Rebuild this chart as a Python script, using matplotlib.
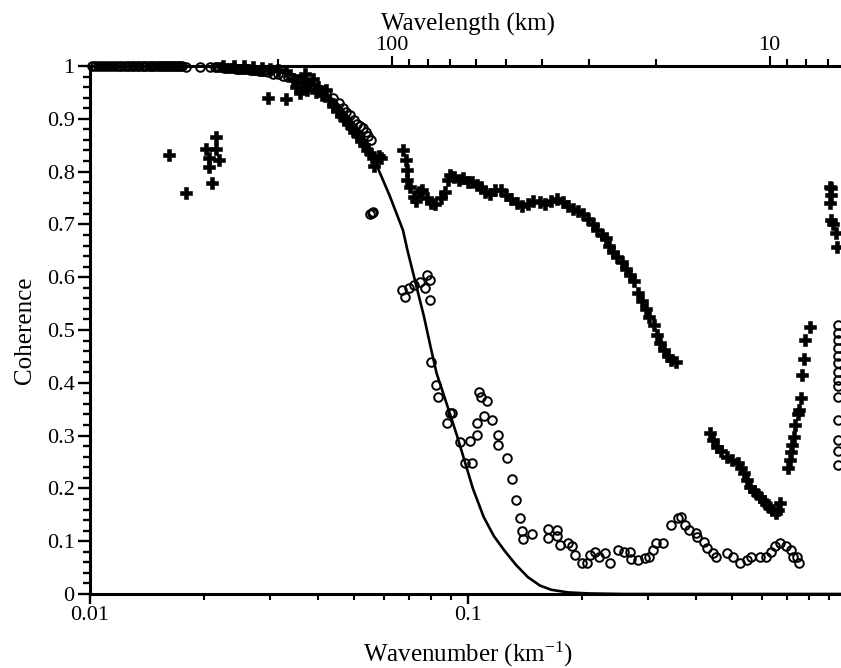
import numpy as np
import matplotlib
matplotlib.use("Agg")
import matplotlib.pyplot as plt
from matplotlib.ticker import FixedLocator, NullFormatter, FuncFormatter

plt.rcParams['font.family'] = ['Liberation Serif', 'DejaVu Serif']
plt.rcParams['mathtext.fontset'] = 'custom'
plt.rcParams['mathtext.rm'] = 'Liberation Serif'
plt.rcParams['mathtext.it'] = 'Liberation Serif:italic'

# ---------------- data (wavenumber km^-1, coherence) ----------------
# model curve
curve_k = [0.010, 0.015, 0.020, 0.025, 0.030, 0.035, 0.040, 0.045, 0.050, 0.054,
           0.057, 0.062, 0.0673, 0.0691, 0.0732, 0.0765, 0.0795, 0.0826, 0.0860,
           0.0897, 0.0935, 0.0972, 0.103, 0.110, 0.117, 0.1246, 0.134, 0.144,
           0.155, 0.166, 0.184, 0.21, 0.26, 1.0]
curve_c = [1.0, 1.0, 0.999, 0.997, 0.992, 0.982, 0.962, 0.930, 0.890, 0.850,
           0.816, 0.755, 0.689, 0.652, 0.580, 0.525, 0.470, 0.418, 0.380,
           0.340, 0.300, 0.260, 0.200, 0.146, 0.110, 0.083, 0.055, 0.032,
           0.016, 0.008, 0.003, 0.001, 0.0, 0.0]

# open circles
circ_k = [0.0101, 0.0103, 0.0105, 0.0107, 0.0109, 0.0111, 0.0113, 0.0115, 0.0117,
          0.0119, 0.0121, 0.0123, 0.0125, 0.0127, 0.0129, 0.0131, 0.0133, 0.0135,
          0.0137, 0.0139, 0.0141, 0.0143, 0.0145, 0.0147, 0.0149, 0.0151, 0.0153,
          0.0155, 0.0157, 0.0159, 0.0161, 0.0163, 0.0165, 0.0167, 0.0169, 0.0171,
          0.0173, 0.0175,
          0.0180, 0.0196, 0.0208, 0.0214, 0.0217, 0.0220, 0.0223, 0.0226, 0.0229,
          0.0232, 0.0235, 0.0238, 0.0241, 0.0244, 0.0247, 0.0250, 0.0253, 0.0256,
          0.0259, 0.0262, 0.0265, 0.0268, 0.0271, 0.0274, 0.0277, 0.0280, 0.0283,
          0.0286, 0.0289, 0.0295,
          0.0305, 0.0315, 0.0325, 0.0335, 0.0345, 0.0355, 0.0365, 0.0375, 0.0385,
          0.0400, 0.0420, 0.0440, 0.0455, 0.0467, 0.0477, 0.0487, 0.0498, 0.0509,
          0.0518, 0.0527, 0.0536, 0.0545, 0.0555,
          0.0552, 0.0556, 0.0559,
          0.0668, 0.0682, 0.0700, 0.0718, 0.0748, 0.0770, 0.0779, 0.0795, 0.0795,
          0.0800, 0.0825, 0.0834, 0.0879, 0.0897, 0.0905,
          0.0953, 0.0980, 0.1012, 0.1027, 0.1055, 0.1055, 0.1070, 0.1085, 0.1100,
          0.1122, 0.1157, 0.1204, 0.1204, 0.1271, 0.1310, 0.1340, 0.1370, 0.1388,
          0.1396, 0.1478, 0.1630, 0.1630, 0.1720, 0.1720, 0.1753, 0.1842, 0.1880,
          0.1920, 0.2000, 0.2060, 0.2100, 0.2170, 0.2220, 0.2310, 0.2380,
          0.2500, 0.2580, 0.2680, 0.2700, 0.2820, 0.2940, 0.3020, 0.3090, 0.3150,
          0.3280, 0.3450, 0.3600, 0.3670, 0.3740, 0.3850, 0.4000, 0.4040, 0.4200,
          0.4300, 0.4440, 0.4540, 0.4840, 0.5030, 0.5230, 0.5460, 0.5620, 0.5920,
          0.6160, 0.6350, 0.6480, 0.6680, 0.6940, 0.7160, 0.7220, 0.7440, 0.7520,
          0.954, 0.954, 0.954, 0.954, 0.954, 0.954, 0.954, 0.954, 0.954, 0.954,
          0.954, 0.954, 0.954, 0.954]
circ_c = [1.0, 1.0, 1.0, 1.0, 1.0, 1.0, 1.0, 1.0, 1.0,
          1.0, 1.0, 1.0, 1.0, 1.0, 1.0, 1.0, 1.0, 1.0,
          1.0, 1.0, 1.0, 1.0, 1.0, 1.0, 1.0, 1.0, 1.0,
          1.0, 1.0, 1.0, 1.0, 1.0, 1.0, 1.0, 1.0, 1.0,
          1.0, 1.0,
          0.999, 0.999, 0.999, 0.999, 0.998, 0.998, 0.998, 0.997, 0.997,
          0.997, 0.996, 0.996, 0.996, 0.995, 0.995, 0.995, 0.995, 0.994,
          0.994, 0.994, 0.993, 0.993, 0.993, 0.992, 0.992, 0.991, 0.991,
          0.990, 0.990, 0.988,
          0.985, 0.984, 0.982, 0.980, 0.978, 0.975, 0.970, 0.965, 0.962,
          0.957, 0.948, 0.939, 0.930, 0.920, 0.913, 0.907, 0.898, 0.891,
          0.886, 0.883, 0.875, 0.868, 0.860,
          0.719, 0.721, 0.723,
          0.576, 0.563, 0.580, 0.585, 0.591, 0.579, 0.604, 0.595, 0.557,
          0.440, 0.396, 0.374, 0.323, 0.343, 0.342,
          0.288, 0.248, 0.289, 0.249, 0.301, 0.323, 0.383, 0.374, 0.338,
          0.366, 0.330, 0.301, 0.282, 0.258, 0.218, 0.178, 0.143, 0.120,
          0.104, 0.114, 0.123, 0.106, 0.121, 0.110, 0.093, 0.096, 0.090,
          0.074, 0.058, 0.058, 0.074, 0.080, 0.071, 0.077, 0.058,
          0.083, 0.080, 0.080, 0.066, 0.064, 0.068, 0.071, 0.083, 0.096,
          0.096, 0.131, 0.143, 0.146, 0.131, 0.121, 0.115, 0.108, 0.099,
          0.087, 0.077, 0.071, 0.077, 0.071, 0.058, 0.064, 0.071, 0.071,
          0.071, 0.080, 0.090, 0.096, 0.090, 0.083, 0.071, 0.071, 0.058,
          0.509, 0.495, 0.481, 0.465, 0.451, 0.437, 0.421, 0.405, 0.393, 0.374,
          0.330, 0.292, 0.270, 0.244]

# crosses
cross_k = [0.0162, 0.0179, 0.0203, 0.0206, 0.0207, 0.0210, 0.0216, 0.0216, 0.0219,
           0.0225, 0.0240, 0.0255, 0.0270, 0.0285,
           0.0296, 0.0330,
           0.0300, 0.0315, 0.0330, 0.0345, 0.0350, 0.0360, 0.0365, 0.0370, 0.0375,
           0.0380, 0.0390, 0.0395, 0.0400, 0.0410, 0.0420, 0.0430, 0.0440, 0.0450,
           0.0460, 0.0470, 0.0480, 0.0490, 0.0500, 0.0510, 0.0520, 0.0530, 0.0540,
           0.0550, 0.0560, 0.0570, 0.0565, 0.0580, 0.0590,
           0.0675, 0.0684, 0.0688, 0.0688, 0.0702, 0.0718, 0.0730, 0.0740, 0.0755,
           0.0780, 0.0800, 0.0820, 0.0850, 0.0870, 0.0885, 0.0897, 0.0920, 0.0945,
           0.0972, 0.1000, 0.1025, 0.1055, 0.1080, 0.1110, 0.1143, 0.1180, 0.1220,
           0.1260, 0.1300, 0.1345, 0.1390, 0.1440, 0.1490, 0.1550, 0.1600, 0.1660,
           0.1720, 0.1780, 0.1840, 0.1900, 0.1960, 0.2020, 0.2080, 0.2140, 0.2200,
           0.2260, 0.2320, 0.2360, 0.2420, 0.2480, 0.2550, 0.2620, 0.2680, 0.2750,
           0.2820, 0.2880, 0.2950, 0.3020, 0.3100, 0.3160, 0.3230, 0.3300, 0.3380,
           0.3450, 0.3550,
           0.436, 0.445, 0.455, 0.468, 0.483, 0.500, 0.518, 0.527, 0.536, 0.546,
           0.557, 0.570, 0.580, 0.592, 0.605, 0.615, 0.626, 0.638, 0.652, 0.660,
           0.670,
           0.704, 0.711, 0.716, 0.720, 0.728, 0.733, 0.745, 0.752, 0.759, 0.766,
           0.776, 0.780, 0.803,
           0.905, 0.914, 0.910, 0.906, 0.914, 0.925, 0.940, 0.945]
cross_c = [0.831, 0.759, 0.842, 0.825, 0.809, 0.778, 0.865, 0.842, 0.822,
           1.0, 1.0, 1.0, 0.998, 0.997,
           0.939, 0.937,
           0.995, 0.993, 0.990, 0.975, 0.960, 0.948, 0.970, 0.985, 0.955,
           0.965, 0.975, 0.950, 0.960, 0.945, 0.955, 0.935, 0.925, 0.915,
           0.905, 0.900, 0.890, 0.885, 0.875, 0.870, 0.858, 0.850, 0.840,
           0.835, 0.825, 0.820, 0.810, 0.830, 0.825,
           0.841, 0.822, 0.803, 0.784, 0.771, 0.752, 0.745, 0.762, 0.765,
           0.750, 0.740, 0.738, 0.750, 0.762, 0.785, 0.794, 0.790, 0.785,
           0.787, 0.780, 0.780, 0.775, 0.770, 0.762, 0.758, 0.765, 0.765,
           0.755, 0.748, 0.740, 0.735, 0.738, 0.745, 0.742, 0.738, 0.745,
           0.748, 0.742, 0.735, 0.730, 0.725, 0.720, 0.710, 0.700, 0.690,
           0.680, 0.675, 0.660, 0.648, 0.638, 0.628, 0.615, 0.605, 0.592,
           0.570, 0.555, 0.540, 0.525, 0.510, 0.490, 0.475, 0.462, 0.450,
           0.443, 0.440,
           0.304, 0.292, 0.279, 0.270, 0.260, 0.254, 0.248, 0.238, 0.229, 0.216,
           0.203, 0.195, 0.190, 0.184, 0.177, 0.170, 0.165, 0.160, 0.153, 0.160,
           0.172,
           0.238, 0.254, 0.268, 0.282, 0.298, 0.320, 0.340, 0.348, 0.371, 0.415,
           0.446, 0.481, 0.506,
           0.770, 0.768, 0.755, 0.740, 0.708, 0.700, 0.683, 0.658]

y_ticks = [0.0, 0.1, 0.2, 0.3, 0.4, 0.5, 0.6, 0.7, 0.8, 0.9, 1.0]
x_ticks = [0.01, 0.1]
x_ticklabels = ["0.01", "0.1"]
wl_major = [100, 10]
wl_minor = [200, 90, 80, 70, 60, 50, 40, 30, 20, 9, 8, 7]

# ---------------- figure ----------------
W, H = 841, 668
fig = plt.figure(figsize=(W / 100, H / 100), dpi=100)
ax = fig.add_axes([90 / W, 74 / H, 756 / W, 528 / H])

ax.plot(curve_k, curve_c, color='black', lw=1.9, zorder=3, clip_on=False)
ax.plot(circ_k, circ_c, linestyle='none', marker='o', ms=6.2, mfc='none',
        mec='black', mew=1.4, zorder=4, clip_on=False)
ax.plot(cross_k, cross_c, linestyle='none', marker='P', ms=9, mfc='black',
        mec='black', mew=0.4, zorder=5, clip_on=False)

ax.set_xscale('log')
ax.set_xlim(0.01, 1.0)
ax.set_ylim(0, 1)

ax.xaxis.set_major_locator(FixedLocator(x_ticks))
ax.set_xticklabels(x_ticklabels)
ax.xaxis.set_minor_formatter(NullFormatter())
ax.set_yticks(y_ticks)
ax.yaxis.set_major_formatter(FuncFormatter(lambda v, p: f"{v:g}"))
ax.yaxis.set_minor_locator(FixedLocator(np.arange(0, 1.0001, 0.02)))

ax.tick_params(axis='both', which='major', direction='out', length=9, width=1.7,
               labelsize=16, color='black', pad=2)
ax.tick_params(axis='x', which='major', length=7)
ax.tick_params(axis='x', which='minor', direction='out', length=4.5, width=1.5)
ax.tick_params(axis='y', which='minor', direction='out', length=5, width=1.7)

for s in ['left', 'bottom', 'top']:
    ax.spines[s].set_linewidth(2.2)
ax.spines['right'].set_visible(False)

# top axis: wavelength = 2*pi / wavenumber
top = ax.twiny()
top.set_xscale('log')
top.set_xlim(ax.get_xlim())
top.xaxis.set_major_locator(FixedLocator([2 * np.pi / w for w in wl_major]))
top.set_xticklabels([str(w) for w in wl_major])
top.xaxis.set_minor_locator(FixedLocator([2 * np.pi / w for w in wl_minor]))
top.xaxis.set_minor_formatter(NullFormatter())
top.tick_params(axis='x', which='major', direction='out', length=7, width=1.5,
                labelsize=16, pad=1)
top.tick_params(axis='x', which='minor', direction='out', length=5, width=1.5)
for s in top.spines.values():
    s.set_visible(False)
top.set_xlabel('Wavelength (km)', fontsize=18, labelpad=4)

ax.set_xlabel('Wavenumber (km$^{-1}$)', fontsize=18, labelpad=10)
ax.set_ylabel('Coherence', fontsize=18, labelpad=8)

fig.savefig('out.png', dpi=100)
